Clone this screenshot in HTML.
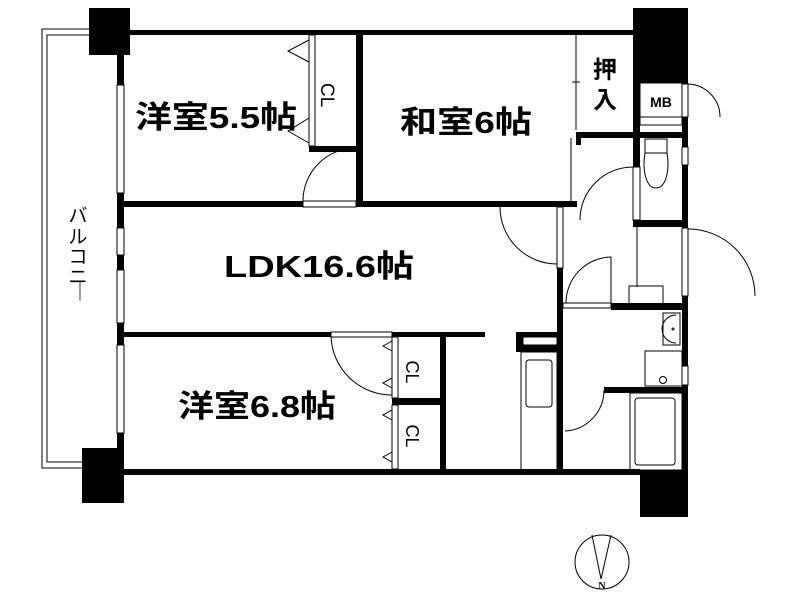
<!DOCTYPE html>
<html><head><meta charset="utf-8"><style>
html,body{margin:0;padding:0;background:#fff;width:800px;height:600px;overflow:hidden}
text{font-family:"Liberation Sans","Noto Sans CJK JP",sans-serif;font-weight:bold;fill:#000}
</style></head><body>
<svg width="800" height="600" viewBox="0 0 800 600" xmlns="http://www.w3.org/2000/svg">
<g fill="none" stroke="#000" stroke-width="1">
<path d="M89,29 H42 V468 H82"/>
<path d="M89,35 H47 V462 H82"/>
</g>
<g fill="#000">
<rect x="89" y="8" width="41" height="47"/>
<rect x="82" y="448" width="42" height="55"/>
<rect x="633" y="8" width="55" height="75"/>
<rect x="640" y="470" width="48" height="47"/>
<rect x="130" y="30" width="503" height="5"/>
<rect x="124" y="469" width="516" height="6"/>
<rect x="117" y="55" width="7" height="414"/>
<rect x="124" y="201" width="179" height="6"/>
<rect x="356" y="201" width="221" height="6"/>
<rect x="356" y="35" width="7" height="172"/>
<rect x="309" y="146" width="47" height="6"/>
<rect x="124" y="332" width="207" height="5"/>
<rect x="392" y="332" width="93" height="5"/>
<rect x="392" y="332" width="6" height="137"/>
<rect x="392" y="398" width="53" height="7"/>
<rect x="440" y="332" width="6" height="137"/>
<rect x="633" y="83" width="7" height="142"/>
<rect x="682" y="83" width="6" height="387"/>
<rect x="576" y="132" width="112" height="6"/>
<rect x="576" y="132" width="5" height="13"/>
<rect x="633" y="220" width="55" height="7"/>
<rect x="557" y="268" width="6" height="202"/>
<rect x="611" y="303" width="77" height="7"/>
<rect x="604" y="387" width="84" height="6"/>
<rect x="516" y="332" width="41" height="20"/>
</g>
<g fill="#fff" stroke="#000" stroke-width="1">
<rect x="117" y="85" width="7" height="108"/>
<rect x="117" y="228" width="7" height="27"/>
<rect x="117" y="270" width="7" height="53"/>
<rect x="117" y="345" width="7" height="88"/>
<rect x="640" y="83" width="42" height="34"/>
<rect x="640" y="117" width="42" height="8"/>
<rect x="682" y="84" width="6" height="33"/>
<rect x="633" y="167" width="7" height="53"/>
<rect x="682" y="147" width="6" height="18"/>
<rect x="682" y="228" width="6" height="68"/>
<rect x="682" y="366" width="6" height="19"/>
<rect x="557" y="207" width="6" height="61"/>
<rect x="523" y="337" width="34" height="8"/>
<rect x="309" y="35" width="6" height="111"/>
<rect x="392" y="337" width="6" height="61"/>
<rect x="392" y="405" width="6" height="64"/>
<rect x="303" y="201" width="53" height="6"/>
<rect x="331" y="332" width="61" height="5"/>
<rect x="563" y="303" width="48" height="5"/>
</g>
<g fill="none" stroke="#000" stroke-width="1">
<path d="M303,201 A53,53 0 0 1 356,148"/>
<path d="M331,337 A61,61 0 0 0 392,395"/>
<path d="M500,207 A57,57 0 0 0 557,264"/>
<path d="M580,220 A53,53 0 0 1 633,167"/>
<path d="M688,84 A33,33 0 0 1 720,117"/>
<path d="M688,229 A67,67 0 0 1 755,296"/>
<path d="M566,303 A46,46 0 0 1 611,257 V303"/>
<path d="M604,390 A41,41 0 0 1 565,431"/>
<path d="M309,40 L288,51 L309,62"/>
<path d="M309,118 L288,131 L309,143"/>
<path d="M392,341 L383,346 L392,351"/>
<path d="M392,378 L383,383 L392,388"/>
<path d="M392,410 L383,415 L392,420"/>
<path d="M392,452 L383,457 L392,462"/>
<path d="M576,35 V130"/>
<path d="M571,138 V201"/>
<path d="M572,82 H580"/>
<path d="M637,227 V287"/>
<rect x="629" y="286" width="34" height="18"/>
<rect x="645" y="139" width="22" height="14"/>
<path d="M645,153 C642,170 646,188 656,188 C666,188 670,170 667,153"/>
<rect x="663" y="313" width="17" height="32"/>
<path d="M676,315 A14,14 0 0 0 676,343"/>
<circle cx="673" cy="329" r="1"/>
<rect x="645" y="351" width="37" height="35"/>
<circle cx="663" cy="380" r="3.5"/>
<rect x="630" y="393" width="52" height="77"/>
<rect x="635" y="398" width="40" height="67" rx="3"/>
<rect x="521" y="352" width="36" height="118"/>
<rect x="526" y="360" width="26" height="47" rx="3"/>
<circle cx="602" cy="562" r="27"/>
<path d="M592,535 L601,579 L611,535"/>
</g>
<text x="135" y="128" font-size="31" textLength="162" lengthAdjust="spacingAndGlyphs">洋室5.5帖</text>
<text x="400" y="133" font-size="31" textLength="132" lengthAdjust="spacingAndGlyphs">和室6帖</text>
<text x="224" y="277" font-size="31" textLength="190" lengthAdjust="spacingAndGlyphs">LDK16.6帖</text>
<text x="178" y="417" font-size="31" textLength="158" lengthAdjust="spacingAndGlyphs">洋室6.8帖</text>
<text x="605" y="78" font-size="24" text-anchor="middle">押</text>
<text x="605" y="108" font-size="24" text-anchor="middle">入</text>
<text x="661" y="107" font-size="14" text-anchor="middle">MB</text>
<text transform="translate(321,95) rotate(90)" font-size="19" text-anchor="middle" style="font-weight:normal">CL</text>
<text transform="translate(406,372) rotate(90)" font-size="18" text-anchor="middle" style="font-weight:normal">CL</text>
<text transform="translate(406,436) rotate(90)" font-size="18" text-anchor="middle" style="font-weight:normal">CL</text>
<text x="78" y="222" font-size="19" text-anchor="middle" style="font-weight:normal">バ</text>
<text x="78" y="243" font-size="19" text-anchor="middle" style="font-weight:normal">ル</text>
<text x="78" y="263" font-size="19" text-anchor="middle" style="font-weight:normal">コ</text>
<text x="78" y="283" font-size="19" text-anchor="middle" style="font-weight:normal">ニ</text>
<text x="80" y="298" font-size="19" text-anchor="middle" style="font-weight:normal">｜</text>
<text x="602" y="589" font-size="10" text-anchor="middle" style="font-family:'Liberation Serif',serif">N</text>
</svg>
</body></html>
